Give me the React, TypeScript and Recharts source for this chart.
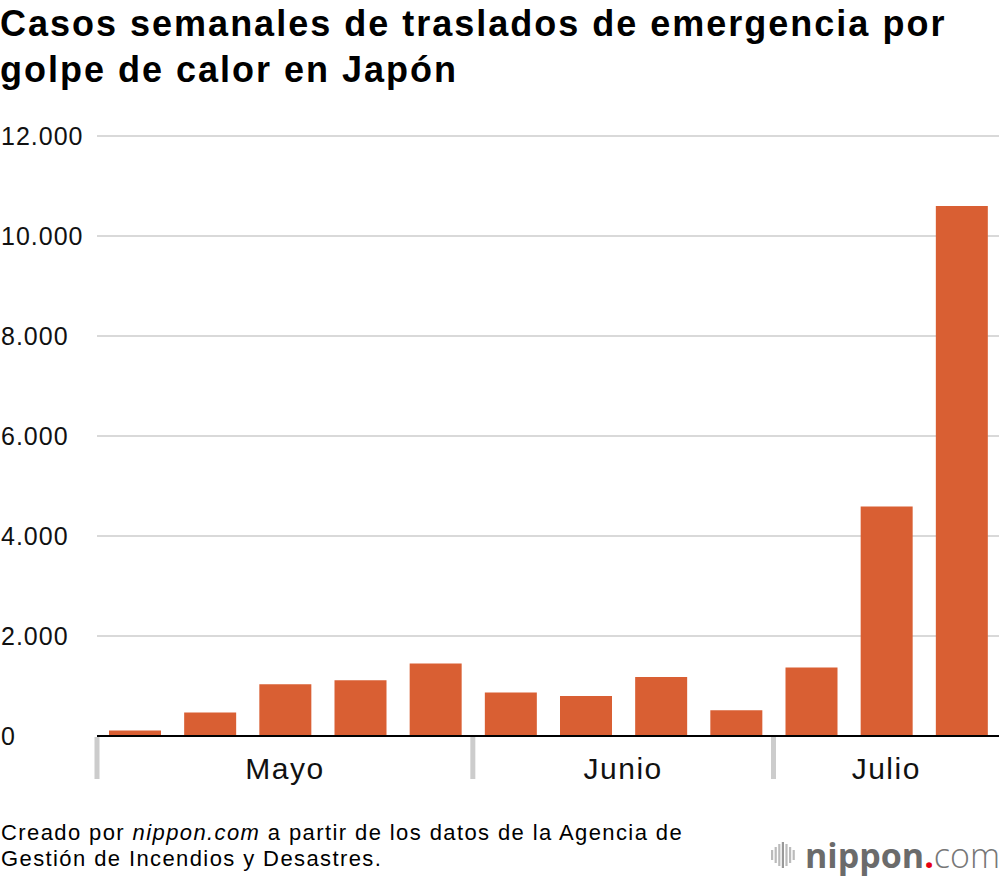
import React from 'react';
import { BarChart, Bar, XAxis, YAxis, CartesianGrid } from 'recharts';

// semanas (mayo - julio)
const weeks = ['S1', 'S2', 'S3', 'S4', 'S5', 'S6', 'S7', 'S8', 'S9', 'S10', 'S11', 'S12'];
const weekMonth = ['Mayo', 'Mayo', 'Mayo', 'Mayo', 'Mayo', 'Junio', 'Junio', 'Junio', 'Junio', 'Julio', 'Julio', 'Julio'];
const cases = [110, 470, 1035, 1115, 1450, 870, 800, 1180, 515, 1370, 4590, 10600];
const yTicks = [0, 2000, 4000, 6000, 8000, 10000, 12000];

const data = weeks.map((w, i) => ({ week: w, month: weekMonth[i], cases: cases[i] }));

const FONT = '"Liberation Sans", Arial, Helvetica, sans-serif';
const BAR_COLOR = '#d95f33';

const fmt = (v: number) => v.toLocaleString('de-DE');

const YTick = (props: any) => {
  const { y, payload } = props;
  return (
    <text x={1} y={y + 9} textAnchor="start" fontSize={25} letterSpacing={1} fill="#111" fontFamily={FONT}>
      {fmt(payload.value)}
    </text>
  );
};

const MonthTick = (props: any) => {
  const { x, y, index, payload } = props;
  const month = weekMonth[index];
  const first = weekMonth.indexOf(month);
  if (index !== first) return null;
  const count = weekMonth.filter((m) => m === month).length;
  const half = payload && payload.offset ? payload.offset : 37.5;
  const left = x - half;
  const center = left + half * count;
  return (
    <g>
      <rect x={left - 2.5} y={y + 1} width={5} height={42} fill="#cccccc" />
      <text x={center} y={y + 43} textAnchor="middle" fontSize={30} letterSpacing={1.5} fill="#111" fontFamily={FONT}>
        {month}
      </text>
    </g>
  );
};

const Logo = () => (
  <div style={{ position: 'absolute', left: 771, top: 838, display: 'flex', alignItems: 'center' }}>
    <svg width={28} height={30}>
      {[10, 16, 22, 26, 22, 16, 10].map((h, i) => (
        <rect key={i} x={i * 3.6} y={15 - h / 2} width={2.2} height={h} fill={i === 3 ? '#999' : '#bbb'} />
      ))}
    </svg>
    <span style={{ fontFamily: '"Open Sans", sans-serif', fontSize: 34, lineHeight: '34px', marginLeft: 6, color: '#6b6b6b' }}>
      <span style={{ fontWeight: 700 }}>nippon</span>
      <span style={{ fontWeight: 700, color: '#e60012' }}>.</span>
      <span style={{ fontWeight: 300, color: '#777' }}>com</span>
    </span>
  </div>
);

export default function App() {
  return (
    <div style={{ position: 'relative', width: 1000, height: 880, background: '#fff', overflow: 'hidden' }}>
      <style>{'body{margin:0}'}</style>
      <div
        style={{
          position: 'absolute',
          left: 0,
          top: 1,
          fontFamily: FONT,
          fontWeight: 700,
          fontSize: 36,
          letterSpacing: 2,
          lineHeight: '46px',
          color: '#000',
          whiteSpace: 'nowrap',
        }}
      >
        Casos semanales de traslados de emergencia por
        <br />
        golpe de calor en Japón
      </div>

      <BarChart
        width={1000}
        height={880}
        data={data}
        margin={{ top: 136, right: 1, bottom: 104, left: 0 }}
      >
        <CartesianGrid vertical={false} stroke="#cccccc" strokeWidth={1.5} />
        <YAxis
          width={97}
          domain={[0, 12000]}
          ticks={yTicks}
          axisLine={false}
          tickLine={false}
          tick={<YTick />}
        />
        <XAxis
          dataKey="week"
          height={40}
          interval={0}
          tickSize={0}
          tickMargin={0}
          tickLine={false}
          axisLine={{ stroke: '#000', strokeWidth: 2 }}
          tick={<MonthTick />}
        />
        <Bar dataKey="cases" fill={BAR_COLOR} barSize={52} isAnimationActive={false} />
      </BarChart>

      <div
        style={{
          position: 'absolute',
          left: 1,
          top: 820,
          fontFamily: FONT,
          fontSize: 22,
          letterSpacing: 1.4,
          lineHeight: '26px',
          color: '#000',
          whiteSpace: 'nowrap',
        }}
      >
        Creado por <i>nippon.com</i> a partir de los datos de la Agencia de
        <br />
        Gestión de Incendios y Desastres.
      </div>
      <Logo />
    </div>
  );
}
